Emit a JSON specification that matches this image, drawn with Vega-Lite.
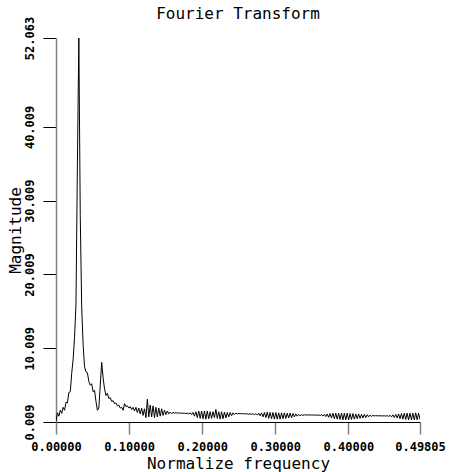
{
  "$schema": "https://vega.github.io/schema/vega-lite/v6.json",
  "autosize": "none",
  "padding": {"left": 56, "top": 38, "right": 31, "bottom": 50},
  "width": 364,
  "height": 384,
  "background": "white",
  "title": {"text": "Fourier Transform", "font": "DejaVu Sans Mono", "fontSize": 16, "fontWeight": "normal", "color": "black", "anchor": "middle", "frame": "group", "baseline": "alphabetic", "offset": -19},
  "config": {"view": {"stroke": null}, "axis": {"grid": false}},
  "data": {"values": [
    {"f":0,"m":0.1},{"f":0.00195,"m":1.26},{"f":0.00391,"m":0.8},{"f":0.00586,"m":1.6},{"f":0.00781,"m":1.17},{"f":0.00977,"m":2.0},{"f":0.01172,"m":1.6},{"f":0.01367,"m":2.7},{"f":0.01563,"m":2.6},{"f":0.01758,"m":4.0},
    {"f":0.01953,"m":4.1},{"f":0.02148,"m":6.6},{"f":0.02344,"m":8.5},{"f":0.02539,"m":11.5},{"f":0.02734,"m":16.0},{"f":0.0293,"m":35.0},{"f":0.03125,"m":52.063},{"f":0.0332,"m":28.0},{"f":0.03516,"m":15.5},{"f":0.03711,"m":10.5},
    {"f":0.03906,"m":7.5},{"f":0.04102,"m":6.8},{"f":0.04297,"m":6.7},{"f":0.04492,"m":5.5},{"f":0.04688,"m":5.0},{"f":0.04883,"m":5.2},{"f":0.05078,"m":4.1},{"f":0.05273,"m":4.3},{"f":0.05469,"m":2.8},{"f":0.05664,"m":1.6},
    {"f":0.05859,"m":1.9},{"f":0.06055,"m":5.0},{"f":0.0625,"m":8.1},{"f":0.06445,"m":6.0},{"f":0.06641,"m":4.5},{"f":0.06836,"m":3.6},{"f":0.07031,"m":3.9},{"f":0.07227,"m":3.2},{"f":0.07422,"m":3.3},{"f":0.07617,"m":2.8},
    {"f":0.07813,"m":2.9},{"f":0.08008,"m":2.5},{"f":0.08203,"m":2.6},{"f":0.08398,"m":2.2},{"f":0.08594,"m":2.3},{"f":0.08789,"m":1.9},{"f":0.08984,"m":2.0},{"f":0.0918,"m":1.6},{"f":0.09375,"m":2.5},{"f":0.0957,"m":2.1},
    {"f":0.09766,"m":2.2},{"f":0.09961,"m":1.9},{"f":0.10156,"m":2.1},{"f":0.10352,"m":1.7},{"f":0.10547,"m":2.0},{"f":0.10742,"m":1.5},{"f":0.10938,"m":2.0},{"f":0.11133,"m":1.3},{"f":0.11328,"m":1.9},{"f":0.11523,"m":1.1},
    {"f":0.11719,"m":1.9},{"f":0.11914,"m":0.9},{"f":0.12109,"m":1.8},{"f":0.12305,"m":0.6},{"f":0.125,"m":3.1},{"f":0.12695,"m":0.7},{"f":0.12891,"m":2.3},{"f":0.13086,"m":0.7},{"f":0.13281,"m":2.2},{"f":0.13477,"m":0.6},
    {"f":0.13672,"m":2.0},{"f":0.13867,"m":0.7},{"f":0.14063,"m":1.9},{"f":0.14258,"m":0.8},{"f":0.14453,"m":1.8},{"f":0.14648,"m":0.9},{"f":0.14844,"m":1.6},{"f":0.15039,"m":1.0},{"f":0.15234,"m":1.5},{"f":0.1543,"m":1.1},
    {"f":0.15625,"m":1.35},{"f":0.1582,"m":1.15},{"f":0.16016,"m":1.3},{"f":0.16211,"m":1.2},{"f":0.16406,"m":1.28},{"f":0.16602,"m":1.2},{"f":0.16797,"m":1.25},{"f":0.16992,"m":1.2},{"f":0.17188,"m":1.22},{"f":0.17383,"m":1.2},
    {"f":0.17578,"m":1.2},{"f":0.17773,"m":1.15},{"f":0.17969,"m":1.22},{"f":0.18164,"m":1.1},{"f":0.18359,"m":1.25},{"f":0.18555,"m":1.0},{"f":0.1875,"m":1.3},{"f":0.18945,"m":0.8},{"f":0.19141,"m":1.4},{"f":0.19336,"m":0.6},
    {"f":0.19531,"m":1.5},{"f":0.19727,"m":0.5},{"f":0.19922,"m":1.5},{"f":0.20117,"m":0.45},{"f":0.20313,"m":1.5},{"f":0.20508,"m":0.4},{"f":0.20703,"m":1.5},{"f":0.20898,"m":0.45},{"f":0.21094,"m":1.4},{"f":0.21289,"m":0.5},
    {"f":0.21484,"m":1.4},{"f":0.2168,"m":0.6},{"f":0.21875,"m":1.7},{"f":0.2207,"m":0.5},{"f":0.22266,"m":1.4},{"f":0.22461,"m":0.4},{"f":0.22656,"m":1.4},{"f":0.22852,"m":0.45},{"f":0.23047,"m":1.35},{"f":0.23242,"m":0.55},
    {"f":0.23438,"m":1.3},{"f":0.23633,"m":0.7},{"f":0.23828,"m":1.3},{"f":0.24023,"m":0.85},{"f":0.24219,"m":1.25},{"f":0.24414,"m":1.0},{"f":0.24609,"m":1.2},{"f":0.24805,"m":1.1},{"f":0.25,"m":1.18},{"f":0.25195,"m":1.12},
    {"f":0.25391,"m":1.15},{"f":0.25586,"m":1.12},{"f":0.25781,"m":1.14},{"f":0.25977,"m":1.1},{"f":0.26172,"m":1.12},{"f":0.26367,"m":1.08},{"f":0.26563,"m":1.12},{"f":0.26758,"m":1.05},{"f":0.26953,"m":1.12},{"f":0.27148,"m":1.0},
    {"f":0.27344,"m":1.15},{"f":0.27539,"m":0.95},{"f":0.27734,"m":1.2},{"f":0.2793,"m":0.85},{"f":0.28125,"m":1.25},{"f":0.2832,"m":0.7},{"f":0.28516,"m":1.3},{"f":0.28711,"m":0.6},{"f":0.28906,"m":1.35},{"f":0.29102,"m":0.5},
    {"f":0.29297,"m":1.3},{"f":0.29492,"m":0.45},{"f":0.29688,"m":1.3},{"f":0.29883,"m":0.4},{"f":0.30078,"m":1.3},{"f":0.30273,"m":0.4},{"f":0.30469,"m":1.25},{"f":0.30664,"m":0.4},{"f":0.30859,"m":1.25},{"f":0.31055,"m":0.45},
    {"f":0.3125,"m":1.25},{"f":0.31445,"m":0.5},{"f":0.31641,"m":1.2},{"f":0.31836,"m":0.55},{"f":0.32031,"m":1.2},{"f":0.32227,"m":0.6},{"f":0.32422,"m":1.15},{"f":0.32617,"m":0.7},{"f":0.32813,"m":1.1},{"f":0.33008,"m":0.8},
    {"f":0.33203,"m":1.05},{"f":0.33398,"m":0.85},{"f":0.33594,"m":1.0},{"f":0.33789,"m":0.9},{"f":0.33984,"m":1.0},{"f":0.3418,"m":0.93},{"f":0.34375,"m":0.98},{"f":0.3457,"m":0.95},{"f":0.34766,"m":0.97},{"f":0.34961,"m":0.95},
    {"f":0.35156,"m":0.96},{"f":0.35352,"m":0.94},{"f":0.35547,"m":0.96},{"f":0.35742,"m":0.92},{"f":0.35938,"m":0.97},{"f":0.36133,"m":0.88},{"f":0.36328,"m":1.0},{"f":0.36523,"m":0.82},{"f":0.36719,"m":1.05},{"f":0.36914,"m":0.75},
    {"f":0.37109,"m":1.1},{"f":0.37305,"m":0.65},{"f":0.375,"m":1.15},{"f":0.37695,"m":0.55},{"f":0.37891,"m":1.2},{"f":0.38086,"m":0.45},{"f":0.38281,"m":1.2},{"f":0.38477,"m":0.4},{"f":0.38672,"m":1.2},{"f":0.38867,"m":0.35},
    {"f":0.39063,"m":1.2},{"f":0.39258,"m":0.3},{"f":0.39453,"m":1.2},{"f":0.39648,"m":0.3},{"f":0.39844,"m":1.2},{"f":0.40039,"m":0.3},{"f":0.40234,"m":1.15},{"f":0.4043,"m":0.35},{"f":0.40625,"m":1.15},{"f":0.4082,"m":0.4},
    {"f":0.41016,"m":1.1},{"f":0.41211,"m":0.45},{"f":0.41406,"m":1.1},{"f":0.41602,"m":0.5},{"f":0.41797,"m":1.05},{"f":0.41992,"m":0.55},{"f":0.42188,"m":1.05},{"f":0.42383,"m":0.6},{"f":0.42578,"m":1.0},{"f":0.42773,"m":0.7},
    {"f":0.42969,"m":0.95},{"f":0.43164,"m":0.75},{"f":0.43359,"m":0.92},{"f":0.43555,"m":0.82},{"f":0.4375,"m":0.88},{"f":0.43945,"m":0.84},{"f":0.44141,"m":0.86},{"f":0.44336,"m":0.84},{"f":0.44531,"m":0.85},{"f":0.44727,"m":0.83},
    {"f":0.44922,"m":0.86},{"f":0.45117,"m":0.8},{"f":0.45313,"m":0.88},{"f":0.45508,"m":0.76},{"f":0.45703,"m":0.92},{"f":0.45898,"m":0.7},{"f":0.46094,"m":0.98},{"f":0.46289,"m":0.62},{"f":0.46484,"m":1.05},{"f":0.4668,"m":0.55},
    {"f":0.46875,"m":1.1},{"f":0.4707,"m":0.45},{"f":0.47266,"m":1.15},{"f":0.47461,"m":0.4},{"f":0.47656,"m":1.2},{"f":0.47852,"m":0.35},{"f":0.48047,"m":1.2},{"f":0.48242,"m":0.3},{"f":0.48438,"m":1.2},{"f":0.48633,"m":0.3},
    {"f":0.48828,"m":1.2},{"f":0.49023,"m":0.3},{"f":0.49219,"m":1.25},{"f":0.49414,"m":0.3},{"f":0.49609,"m":1.2},{"f":0.49805,"m":0.35}
  ]},
  "mark": {"type": "line", "color": "black", "strokeWidth": 1, "clip": true},
  "encoding": {
    "x": {"field": "f", "type": "quantitative",
      "scale": {"domain": [0, 0.49805], "nice": false, "zero": false},
      "axis": {"title": "Normalize frequency", "values": [0, 0.1, 0.2, 0.3, 0.4, 0.49805], "format": ".5f",
        "domainColor": "black", "domainWidth": 1, "tickColor": "#808080", "tickWidth": 1.5, "tickSize": 12,
        "labelFont": "DejaVu Sans Mono", "labelFontSize": 12, "labelFontWeight": "bold", "labelColor": "black", "labelPadding": 7, "labelFlush": false, "labelOverlap": false,
        "titleFont": "DejaVu Sans Mono", "titleFontSize": 16, "titleFontWeight": "normal", "titleColor": "black", "titlePadding": 3}},
    "y": {"field": "m", "type": "quantitative",
      "scale": {"domain": [0.009, 52.063], "nice": false, "zero": false},
      "axis": {"title": "Magnitude", "values": [0.009, 10.009, 20.009, 30.009, 40.009, 52.063], "format": ".3f",
        "domainColor": "#808080", "domainWidth": 1.5, "tickColor": "black", "tickWidth": 1, "tickSize": 13,
        "labelAngle": -90, "labelAlign": "center", "labelBaseline": "bottom",
        "labelFont": "DejaVu Sans Mono", "labelFontSize": 12, "labelFontWeight": "bold", "labelColor": "black", "labelPadding": 7, "labelFlush": false, "labelOverlap": false,
        "titleFont": "DejaVu Sans Mono", "titleFontSize": 16, "titleFontWeight": "normal", "titleColor": "black", "titlePadding": 0}}
  }
}
